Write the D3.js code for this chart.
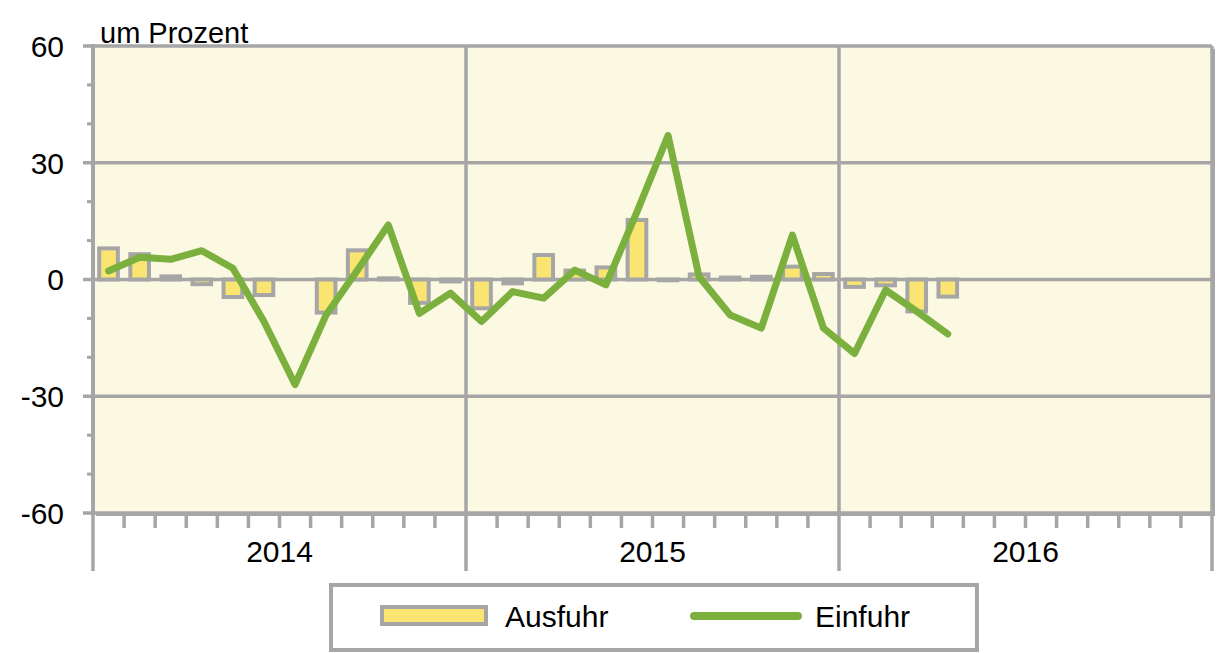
<!DOCTYPE html>
<html>
<head>
<meta charset="utf-8">
<script src="https://cdn.jsdelivr.net/npm/d3@7"></script>
<style>
  body { margin: 0; background: #fff; }
  text { font-family: "Liberation Sans", Arial, sans-serif; fill: #000; }
</style>
</head>
<body>
<script>
// Veränderung gegenüber Vorjahresmonat, um Prozent
const years = ["2014", "2015", "2016"];
const monthNames = ["01","02","03","04","05","06","07","08","09","10","11","12"];
const months = years.flatMap(y => monthNames.map(m => y + "-" + m));

const ausfuhr = [8, 6.5, 0.8, -1.2, -4.5, -4, 0, -8.5, 7.5, 0.3, -6, -0.5,
                 -7.4, -1, 6.3, 2.3, 3.1, 15.3, -0.2, 1.3, 0.5, 0.7, 3.3, 1.4,
                 -1.9, -1.5, -8.2, -4.4];
const einfuhr = [2.2, 5.7, 5.2, 7.4, 2.9, -10.8, -27, -9.1, 2.3, 14, -8.7, -3.5,
                 -10.8, -3.1, -4.8, 2.4, -1.4, 17.4, 37, 0.7, -9.1, -12.5, 11.4, -12.5,
                 -19, -2.7, -8.2, -14];
const yTicks = [-60, -30, 0, 30, 60];
const yMinor = [-50, -40, -20, -10, 10, 20, 40, 50];

const grey = "#a6a6a6", green = "#7bb03f", yellow = "#fae572", bg = "#fcf9e3";

const width = 1225, height = 653;
const margin = {top: 46, right: 13, bottom: 140, left: 93};
const plotW = width - margin.left - margin.right;
const plotH = height - margin.top - margin.bottom;

const svg = d3.select("body").append("svg")
  .attr("width", width)
  .attr("height", height);

const x = d3.scaleBand().domain(months).range([margin.left, margin.left + plotW]).padding(0);
const y = d3.scaleLinear().domain([-60, 60]).range([margin.top + plotH, margin.top]);
const bw = x.bandwidth();

// plot background + shadow on right
svg.append("rect")
  .attr("x", margin.left + 3).attr("y", margin.top + 3)
  .attr("width", plotW).attr("height", plotH)
  .attr("fill", grey);
svg.append("rect")
  .attr("x", margin.left).attr("y", margin.top)
  .attr("width", plotW).attr("height", plotH)
  .attr("fill", bg);

// horizontal grid
svg.selectAll(".hgrid")
  .data(yTicks)
  .join("line")
  .attr("x1", margin.left).attr("x2", margin.left + plotW)
  .attr("y1", d => y(d)).attr("y2", d => y(d))
  .attr("stroke", grey).attr("stroke-width", 3.5);

// year lines
const yearStart = years.map(yr => x(yr + "-01")).concat([margin.left + plotW]);
svg.selectAll(".vgrid")
  .data(yearStart)
  .join("line")
  .attr("x1", d => d).attr("x2", d => d)
  .attr("y1", margin.top).attr("y2", margin.top + plotH)
  .attr("stroke", grey).attr("stroke-width", 3.5);

// y axis
const yAxis = svg.append("g").attr("transform", `translate(${margin.left},0)`);
yAxis.append("line")
  .attr("x1", 0).attr("x2", 0)
  .attr("y1", margin.top - 2).attr("y2", margin.top + plotH + 2)
  .attr("stroke", grey).attr("stroke-width", 4);
yAxis.selectAll(".major")
  .data(yTicks)
  .join("line")
  .attr("x1", -10).attr("x2", 0)
  .attr("y1", d => y(d)).attr("y2", d => y(d))
  .attr("stroke", grey).attr("stroke-width", 3.5);
yAxis.selectAll(".minor")
  .data(yMinor)
  .join("line")
  .attr("x1", -6).attr("x2", 0)
  .attr("y1", d => y(d)).attr("y2", d => y(d))
  .attr("stroke", grey).attr("stroke-width", 3);
yAxis.selectAll("text")
  .data(yTicks)
  .join("text")
  .attr("x", -29).attr("y", d => y(d))
  .attr("dy", "0.36em")
  .attr("text-anchor", "end")
  .attr("font-size", 30)
  .text(d => d);

svg.append("text")
  .attr("x", 100).attr("y", 43)
  .attr("font-size", 29)
  .text("um Prozent");

// x axis ticks
const xAxis = svg.append("g");
const bottom = margin.top + plotH;
xAxis.selectAll(".mtick")
  .data(months.filter(m => !m.endsWith("-01")))
  .join("line")
  .attr("x1", d => x(d)).attr("x2", d => x(d))
  .attr("y1", bottom).attr("y2", bottom + 15)
  .attr("stroke", grey).attr("stroke-width", 3.5);
xAxis.selectAll(".ytick")
  .data(yearStart)
  .join("line")
  .attr("x1", d => d).attr("x2", d => d)
  .attr("y1", bottom).attr("y2", bottom + 58)
  .attr("stroke", grey).attr("stroke-width", 3.5);
xAxis.selectAll("text")
  .data(years)
  .join("text")
  .attr("x", d => x(d + "-01") + 6 * bw)
  .attr("y", 562)
  .attr("text-anchor", "middle")
  .attr("font-size", 30)
  .text(d => d);

// bars
const barW = bw * 0.6;
svg.selectAll(".bar")
  .data(ausfuhr)
  .join("rect")
  .attr("x", (d, i) => x(months[i]) + (bw - barW) / 2)
  .attr("y", d => y(Math.max(0, d)))
  .attr("width", barW)
  .attr("height", d => Math.abs(y(d) - y(0)))
  .attr("fill", yellow)
  .attr("stroke", grey)
  .attr("stroke-width", 4);

// line
const line = d3.line()
  .x((d, i) => x(months[i]) + bw / 2)
  .y(d => y(d));
svg.append("path")
  .datum(einfuhr)
  .attr("d", line)
  .attr("fill", "none")
  .attr("stroke", green)
  .attr("stroke-width", 7)
  .attr("stroke-linejoin", "round")
  .attr("stroke-linecap", "round");

// legend
const lg = svg.append("g");
lg.append("rect")
  .attr("x", 331).attr("y", 585)
  .attr("width", 646).attr("height", 65)
  .attr("fill", "#fff")
  .attr("stroke", grey).attr("stroke-width", 4);
lg.append("rect")
  .attr("x", 382).attr("y", 607)
  .attr("width", 104).attr("height", 17)
  .attr("fill", yellow)
  .attr("stroke", grey).attr("stroke-width", 4);
lg.append("text")
  .attr("x", 505).attr("y", 627)
  .attr("font-size", 30)
  .text("Ausfuhr");
lg.append("line")
  .attr("x1", 694).attr("x2", 798)
  .attr("y1", 616).attr("y2", 616)
  .attr("stroke", green).attr("stroke-width", 8)
  .attr("stroke-linecap", "round");
lg.append("text")
  .attr("x", 815).attr("y", 627)
  .attr("font-size", 30)
  .text("Einfuhr");
</script>
</body>
</html>
